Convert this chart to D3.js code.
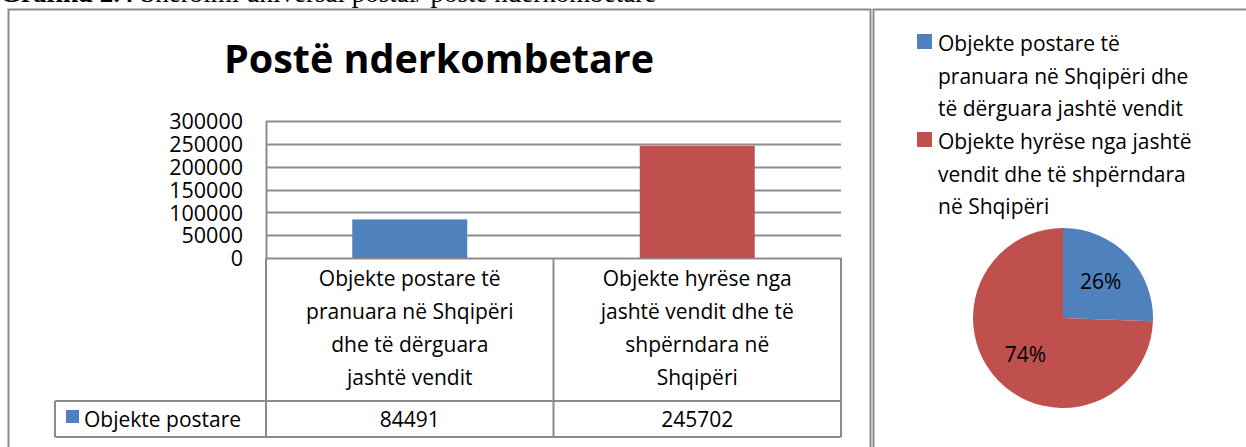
<!DOCTYPE html>
<html>
<head>
<meta charset="utf-8">
<script src="https://cdn.jsdelivr.net/npm/d3@7"></script>
<style>
  body { margin: 0; background: #fff; }
  svg { display: block; }
  text { font-family: "Open Sans", sans-serif; fill: #000; }
</style>
</head>
<body>
<svg width="1246" height="447"></svg>
<script>
// data
var categories = [
    ["Objekte postare të", "pranuara në Shqipëri", "dhe të dërguara", "jashtë vendit"],
    ["Objekte hyrëse nga", "jashtë vendit dhe të", "shpërndara në", "Shqipëri"]
];
var legendLabels = [
    ["Objekte postare të", "pranuara në Shqipëri dhe", "të dërguara jashtë vendit"],
    ["Objekte hyrëse nga jashtë", "vendit dhe të shpërndara", "në Shqipëri"]
];
var seriesName = "Objekte postare";
var values = [84491, 245702];
var yTicks = [0, 50000, 100000, 150000, 200000, 250000, 300000];
var colors = ["#4f81bd", "#c0504d"];

var svg = d3.select("svg");
var gray = "#8c8c8c";

// caption (cut at the top of the page)
var cap = svg.append("text")
    .attr("x", 0).attr("y", 2)
    .style("font-family", "'Liberation Serif', serif")
    .style("font-size", "27px");
cap.append("tspan").style("font-weight", "bold").text("Grafiku 2.4 ");
cap.append("tspan").text(" Shërbimi universal postal/ poste nderkombetare");

// chart boxes
svg.append("path")
    .attr("d", "M8.5,460V9.5H870.5V460")
    .attr("fill", "none").attr("stroke", gray).attr("stroke-width", 2);
svg.append("path")
    .attr("d", "M873.5,460V9.5H1250")
    .attr("fill", "none").attr("stroke", gray).attr("stroke-width", 2);

// ---------- bar chart ----------
var plot = {left: 266, right: 841, top: 121, bottom: 258};

svg.append("text")
    .attr("x", 439).attr("y", 73)
    .attr("text-anchor", "middle")
    .style("font-size", "39.5px").style("font-weight", "bold")
    .text("Postë nderkombetare");

var x = d3.scaleBand()
    .domain(d3.range(values.length))
    .range([plot.left, plot.right])
    .paddingInner(0.6).paddingOuter(0.3);

var y = d3.scaleLinear()
    .domain([0, 300000])
    .range([plot.bottom, plot.top]);

// gridlines
svg.append("g")
    .selectAll("line")
    .data(yTicks)
    .enter().append("line")
    .attr("x1", plot.left).attr("x2", plot.right)
    .attr("y1", function (d) { return Math.round(y(d)) + 0.5; })
    .attr("y2", function (d) { return Math.round(y(d)) + 0.5; })
    .attr("stroke", gray).attr("stroke-width", 2);

svg.append("line")
    .attr("x1", plot.left + 0.5).attr("x2", plot.left + 0.5)
    .attr("y1", plot.top).attr("y2", plot.bottom)
    .attr("stroke", gray).attr("stroke-width", 2);

// y axis labels
var yAxis = d3.axisLeft(y).tickValues(yTicks).tickSize(0).tickPadding(23)
    .tickFormat(d3.format("d"));
var yg = svg.append("g")
    .attr("transform", "translate(" + plot.left + ",0)")
    .call(yAxis);
yg.select(".domain").remove();
yg.selectAll("text")
    .style("font-family", "'Open Sans', sans-serif")
    .style("font-size", "21.5px")
    .attr("dy", "0.36em");

// bars
svg.append("g")
    .selectAll("rect")
    .data(values)
    .enter().append("rect")
    .attr("x", function (d, i) { return x(i); })
    .attr("width", x.bandwidth())
    .attr("y", function (d) { return y(d); })
    .attr("height", function (d) { return y(0) - y(d); })
    .attr("fill", function (d, i) { return colors[i]; });

// data table under the axis
var tbl = {left: 55, catBottom: 401, rowBottom: 437};
var cell = x.step();
var tg = svg.append("g").attr("fill", "none").attr("stroke", gray).attr("stroke-width", 2);
tg.append("path")
    .attr("d", "M" + plot.left + "," + plot.bottom + "V" + tbl.rowBottom +
        "M" + plot.right + "," + plot.bottom + "V" + tbl.rowBottom +
        "M" + (plot.left + cell) + "," + plot.bottom + "V" + tbl.rowBottom +
        "M" + tbl.left + "," + tbl.catBottom + "H" + plot.right +
        "M" + tbl.left + "," + tbl.rowBottom + "H" + plot.right +
        "M" + tbl.left + "," + tbl.catBottom + "V" + tbl.rowBottom);

// category labels
categories.forEach(function (lines, i) {
    var cx = plot.left + cell * (i + 0.5);
    var t = svg.append("text")
        .attr("text-anchor", "middle")
        .style("font-size", "21px");
    lines.forEach(function (ln, j) {
        t.append("tspan").attr("x", cx).attr("y", 286 + j * 33).text(ln);
    });
});

// series row
svg.append("rect")
    .attr("x", 66).attr("y", 410).attr("width", 13).attr("height", 13)
    .attr("fill", colors[0]);
svg.append("text")
    .attr("x", 84).attr("y", 427)
    .style("font-size", "21px")
    .text(seriesName);
values.forEach(function (v, i) {
    svg.append("text")
        .attr("x", plot.left + cell * (i + 0.5)).attr("y", 427)
        .attr("text-anchor", "middle")
        .style("font-size", "21px")
        .text(v);
});

// ---------- pie chart ----------
var lg = svg.append("g");
legendLabels.forEach(function (lines, i) {
    var top = 34 + i * 98;
    lg.append("rect")
        .attr("x", 917).attr("y", top).attr("width", 15).attr("height", 15)
        .attr("fill", colors[i]);
    var t = lg.append("text").style("font-size", "21px");
    lines.forEach(function (ln, j) {
        t.append("tspan").attr("x", 938).attr("y", top + 17 + j * 32.5).text(ln);
    });
});

var total = d3.sum(values);
var pie = d3.pie().sort(null)(values);
var radius = 90;
var arc = d3.arc().innerRadius(0).outerRadius(radius);
var pg = svg.append("g").attr("transform", "translate(1063,318)");
pg.selectAll("path")
    .data(pie)
    .enter().append("path")
    .attr("d", arc)
    .attr("fill", function (d, i) { return colors[i]; });

var labelArc = d3.arc().innerRadius(radius * 0.58).outerRadius(radius * 0.58);
pg.selectAll("text")
    .data(pie)
    .enter().append("text")
    .attr("transform", function (d) { return "translate(" + labelArc.centroid(d) + ")"; })
    .attr("text-anchor", "middle")
    .attr("dy", "0.36em")
    .style("font-size", "21px")
    .text(function (d) { return Math.round(d.value / total * 100) + "%"; });
</script>
</body>
</html>
